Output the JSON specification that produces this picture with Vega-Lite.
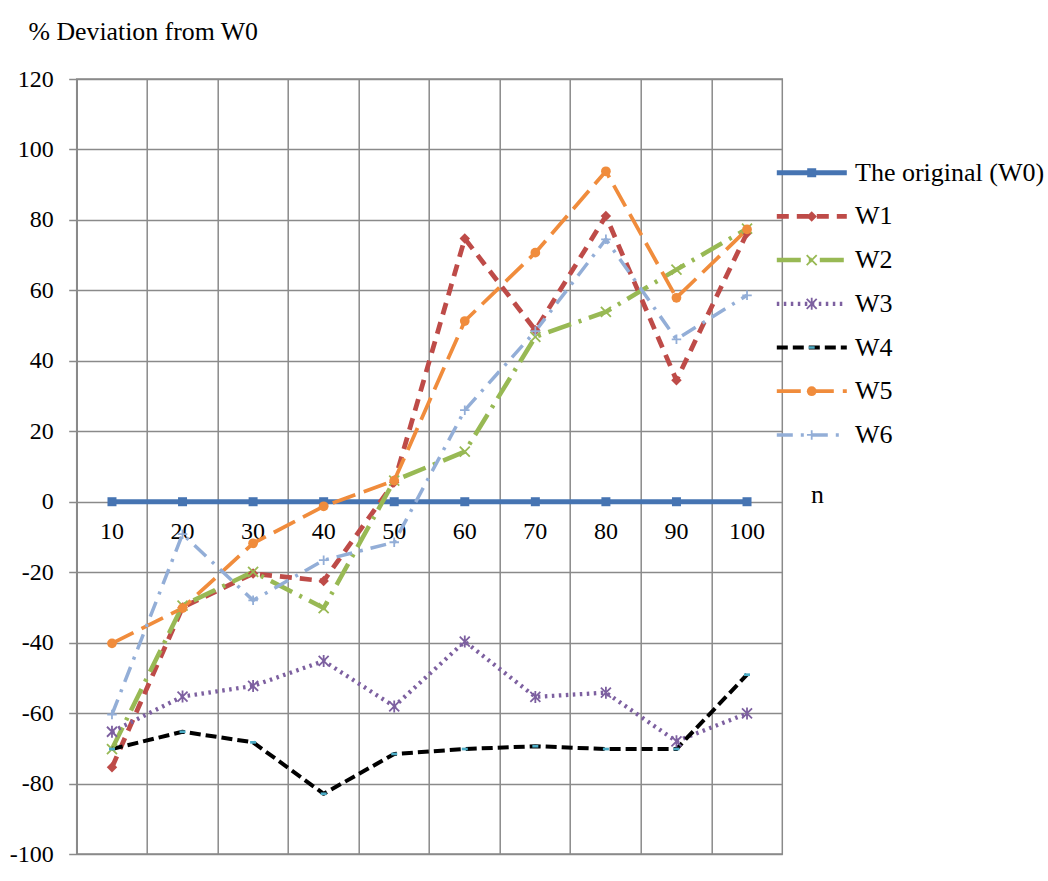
{
  "$schema": "https://vega.github.io/schema/vega-lite/v6.json",
  "width": 705.6,
  "height": 775,
  "autosize": "none",
  "padding": {"left": 76.7, "top": 79, "right": 265.7, "bottom": 27},
  "background": "white",
  "config": {
    "font": "Liberation Serif",
    "view": {"stroke": "#8a8a8a", "strokeWidth": 1.5},
    "axis": {
      "labelFont": "Liberation Serif",
      "labelFontSize": 24,
      "labelColor": "black",
      "titleFont": "Liberation Serif",
      "titleFontSize": 25.8,
      "titleFontWeight": "normal",
      "titleColor": "black",
      "gridColor": "#8a8a8a",
      "gridWidth": 1.5,
      "gridOpacity": 1,
      "domainColor": "#8a8a8a",
      "domainWidth": 1.5,
      "tickColor": "#8a8a8a",
      "tickWidth": 1.5
    },
    "legend": {
      "orient": "none",
      "legendX": 697.6,
      "legendY": 78.7,
      "padding": 0,
      "symbolType": "stroke",
      "symbolSize": 4900,
      "labelFont": "Liberation Serif",
      "labelFontSize": 26,
      "labelColor": "black",
      "labelOffset": 5.7,
      "labelLimit": 400,
      "rowPadding": 13.7,
      "clipHeight": 30
    }
  },
  "data": {
    "values": [
      {"n": 10, "series": "The original (W0)", "dev": 0},
      {"n": 20, "series": "The original (W0)", "dev": 0},
      {"n": 30, "series": "The original (W0)", "dev": 0},
      {"n": 40, "series": "The original (W0)", "dev": 0},
      {"n": 50, "series": "The original (W0)", "dev": 0},
      {"n": 60, "series": "The original (W0)", "dev": 0},
      {"n": 70, "series": "The original (W0)", "dev": 0},
      {"n": 80, "series": "The original (W0)", "dev": 0},
      {"n": 90, "series": "The original (W0)", "dev": 0},
      {"n": 100, "series": "The original (W0)", "dev": 0},
      {"n": 10, "series": "W1", "dev": -75.4},
      {"n": 20, "series": "W1", "dev": -30},
      {"n": 30, "series": "W1", "dev": -20.4},
      {"n": 40, "series": "W1", "dev": -22.5},
      {"n": 50, "series": "W1", "dev": 5.5},
      {"n": 60, "series": "W1", "dev": 74.7},
      {"n": 70, "series": "W1", "dev": 48.7},
      {"n": 80, "series": "W1", "dev": 81.1},
      {"n": 90, "series": "W1", "dev": 34.5},
      {"n": 100, "series": "W1", "dev": 76.3},
      {"n": 10, "series": "W2", "dev": -70.2},
      {"n": 20, "series": "W2", "dev": -29.5},
      {"n": 30, "series": "W2", "dev": -19.9},
      {"n": 40, "series": "W2", "dev": -30.2},
      {"n": 50, "series": "W2", "dev": 6},
      {"n": 60, "series": "W2", "dev": 14.2},
      {"n": 70, "series": "W2", "dev": 46.8},
      {"n": 80, "series": "W2", "dev": 53.9},
      {"n": 90, "series": "W2", "dev": 65.9},
      {"n": 100, "series": "W2", "dev": 77.5},
      {"n": 10, "series": "W3", "dev": -65.3},
      {"n": 20, "series": "W3", "dev": -55.3},
      {"n": 30, "series": "W3", "dev": -52.3},
      {"n": 40, "series": "W3", "dev": -45.2},
      {"n": 50, "series": "W3", "dev": -58.1},
      {"n": 60, "series": "W3", "dev": -39.7},
      {"n": 70, "series": "W3", "dev": -55.4},
      {"n": 80, "series": "W3", "dev": -54.2},
      {"n": 90, "series": "W3", "dev": -68},
      {"n": 100, "series": "W3", "dev": -60.1},
      {"n": 10, "series": "W4", "dev": -70.2},
      {"n": 20, "series": "W4", "dev": -65.3},
      {"n": 30, "series": "W4", "dev": -68.3},
      {"n": 40, "series": "W4", "dev": -82.9},
      {"n": 50, "series": "W4", "dev": -71.6},
      {"n": 60, "series": "W4", "dev": -70.2},
      {"n": 70, "series": "W4", "dev": -69.4},
      {"n": 80, "series": "W4", "dev": -70.2},
      {"n": 90, "series": "W4", "dev": -70.2},
      {"n": 100, "series": "W4", "dev": -49.1},
      {"n": 10, "series": "W5", "dev": -40.2},
      {"n": 20, "series": "W5", "dev": -30.2},
      {"n": 30, "series": "W5", "dev": -11.8},
      {"n": 40, "series": "W5", "dev": -1.3},
      {"n": 50, "series": "W5", "dev": 6},
      {"n": 60, "series": "W5", "dev": 51.3},
      {"n": 70, "series": "W5", "dev": 70.7},
      {"n": 80, "series": "W5", "dev": 93.8},
      {"n": 90, "series": "W5", "dev": 57.9},
      {"n": 100, "series": "W5", "dev": 77.3},
      {"n": 10, "series": "W6", "dev": -60.4},
      {"n": 20, "series": "W6", "dev": -9.2},
      {"n": 30, "series": "W6", "dev": -28},
      {"n": 40, "series": "W6", "dev": -16.6},
      {"n": 50, "series": "W6", "dev": -11.5},
      {"n": 60, "series": "W6", "dev": 26},
      {"n": 70, "series": "W6", "dev": 48.4},
      {"n": 80, "series": "W6", "dev": 74.5},
      {"n": 90, "series": "W6", "dev": 46.1},
      {"n": 100, "series": "W6", "dev": 58.6}
    ]
  },
  "encoding": {
    "x": {
      "field": "n",
      "type": "ordinal",
      "scale": {"type": "band", "paddingInner": 0, "paddingOuter": 0},
      "axis": {
        "orient": "bottom",
        "offset": -352.3,
        "bandPosition": 0,
        "ticks": false,
        "tickSize": 0,
        "domain": false,
        "grid": true,
        "labelAngle": 0,
        "labelBaseline": "alphabetic",
        "labelPadding": 36.6,
        "title": "n",
        "titleAnchor": null,
        "titleX": 740.3,
        "titleY": 1,
        "titleAlign": "center",
        "titleBaseline": "alphabetic"
      }
    },
    "y": {
      "field": "dev",
      "type": "quantitative",
      "scale": {"domain": [-100, 120], "nice": false, "zero": false},
      "axis": {
        "values": [-100, -80, -60, -40, -20, 0, 20, 40, 60, 80, 100, 120],
        "labelExpr": "'' + datum.value",
        "grid": true,
        "domain": true,
        "ticks": true,
        "tickSize": 8,
        "labelPadding": 15.4,
        "title": "% Deviation from W0",
        "titleAngle": 0,
        "titleAnchor": null,
        "titleX": -48.7,
        "titleY": -40,
        "titleAlign": "left",
        "titleBaseline": "alphabetic"
      }
    }
  },
  "resolve": {"scale": {"shape": "independent"}, "legend": {"shape": "independent"}},
  "layer": [
    {
      "mark": {"type": "line", "strokeJoin": "round"},
      "encoding": {
        "color": {
          "field": "series",
          "type": "nominal",
          "title": null,
          "scale": {
            "domain": ["The original (W0)", "W1", "W2", "W3", "W4", "W5", "W6"],
            "range": ["#4674B2", "#BE4B48", "#98B954", "#7D60A0", "#000000", "#F08C3C", "#93AED7"]
          }
        },
        "strokeDash": {
          "field": "series",
          "type": "nominal",
          "title": null,
          "scale": {
            "domain": ["The original (W0)", "W1", "W2", "W3", "W4", "W5", "W6"],
            "range": [[1, 0], [12, 8], [24, 8, 3, 8], [2.5, 4.5], [11, 5], [24, 9], [16, 8, 3, 8]]
          }
        },
        "strokeWidth": {
          "field": "series",
          "type": "nominal",
          "title": null,
          "scale": {
            "domain": ["The original (W0)", "W1", "W2", "W3", "W4", "W5", "W6"],
            "range": [5, 3.5, 3.5, 3, 3.5, 3.5, 3.5]
          }
        }
      }
    },
    {
      "transform": [{"filter": {"field": "series", "equal": "The original (W0)"}}],
      "mark": {"type": "point", "filled": true, "opacity": 1, "color": "#4674B2", "size": 81},
      "encoding": {
        "shape": {
          "field": "series", "type": "nominal", "title": null,
          "scale": {"domain": ["The original (W0)"], "range": ["square"]},
          "legend": {"labelExpr": "''", "legendX": 722, "legendY": 78.7, "symbolSize": 81, "symbolFillColor": "#4674B2", "symbolStrokeColor": "#4674B2", "symbolStrokeWidth": 0, "symbolOpacity": 1}
        }
      }
    },
    {
      "transform": [{"filter": {"field": "series", "equal": "W1"}}],
      "mark": {"type": "point", "filled": true, "opacity": 1, "color": "#BE4B48", "size": 110},
      "encoding": {
        "shape": {
          "field": "series", "type": "nominal", "title": null,
          "scale": {"domain": ["W1"], "range": ["diamond"]},
          "legend": {"labelExpr": "''", "legendX": 722, "legendY": 122.4, "symbolSize": 110, "symbolFillColor": "#BE4B48", "symbolStrokeColor": "#BE4B48", "symbolStrokeWidth": 0, "symbolOpacity": 1}
        }
      }
    },
    {
      "transform": [{"filter": {"field": "series", "equal": "W2"}}],
      "mark": {"type": "point", "filled": false, "opacity": 1, "color": "#98B954", "size": 100, "strokeWidth": 1.8},
      "encoding": {
        "shape": {
          "field": "series", "type": "nominal", "title": null,
          "scale": {"domain": ["W2"], "range": ["M-1,-1L1,1M-1,1L1,-1"]},
          "legend": {"labelExpr": "''", "legendX": 722, "legendY": 166.1, "symbolSize": 100, "symbolFillColor": "transparent", "symbolStrokeColor": "#98B954", "symbolStrokeWidth": 1.8, "symbolOpacity": 1}
        }
      }
    },
    {
      "transform": [{"filter": {"field": "series", "equal": "W3"}}],
      "mark": {"type": "point", "filled": false, "opacity": 1, "color": "#7D60A0", "size": 100, "strokeWidth": 1.8},
      "encoding": {
        "shape": {
          "field": "series", "type": "nominal", "title": null,
          "scale": {"domain": ["W3"], "range": ["M-1,-1L1,1M-1,1L1,-1M0,-1.2L0,1.2"]},
          "legend": {"labelExpr": "''", "legendX": 722, "legendY": 209.8, "symbolSize": 100, "symbolFillColor": "transparent", "symbolStrokeColor": "#7D60A0", "symbolStrokeWidth": 1.8, "symbolOpacity": 1}
        }
      }
    },
    {
      "transform": [{"filter": {"field": "series", "equal": "W4"}}],
      "mark": {"type": "point", "filled": true, "opacity": 1, "color": "#4BACC6", "size": 36},
      "encoding": {
        "shape": {
          "field": "series", "type": "nominal", "title": null,
          "scale": {"domain": ["W4"], "range": ["M-1,-0.45H1V0.45H-1Z"]},
          "legend": {"labelExpr": "''", "legendX": 722, "legendY": 253.5, "symbolSize": 36, "symbolFillColor": "#4BACC6", "symbolStrokeColor": "#4BACC6", "symbolStrokeWidth": 0, "symbolOpacity": 1}
        }
      }
    },
    {
      "transform": [{"filter": {"field": "series", "equal": "W5"}}],
      "mark": {"type": "point", "filled": true, "opacity": 1, "color": "#F08C3C", "size": 95},
      "encoding": {
        "shape": {
          "field": "series", "type": "nominal", "title": null,
          "scale": {"domain": ["W5"], "range": ["circle"]},
          "legend": {"labelExpr": "''", "legendX": 722, "legendY": 297.2, "symbolSize": 95, "symbolFillColor": "#F08C3C", "symbolStrokeColor": "#F08C3C", "symbolStrokeWidth": 0, "symbolOpacity": 1}
        }
      }
    },
    {
      "transform": [{"filter": {"field": "series", "equal": "W6"}}],
      "mark": {"type": "point", "filled": false, "opacity": 1, "color": "#93AED7", "size": 90, "strokeWidth": 1.8},
      "encoding": {
        "shape": {
          "field": "series", "type": "nominal", "title": null,
          "scale": {"domain": ["W6"], "range": ["M-1,0L1,0M0,-1L0,1"]},
          "legend": {"labelExpr": "''", "legendX": 722, "legendY": 340.9, "symbolSize": 90, "symbolFillColor": "transparent", "symbolStrokeColor": "#93AED7", "symbolStrokeWidth": 1.8, "symbolOpacity": 1}
        }
      }
    }
  ]
}
